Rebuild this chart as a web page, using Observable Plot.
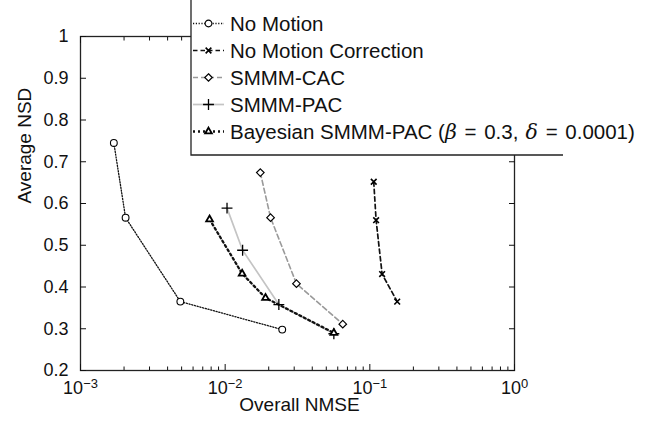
<!DOCTYPE html>
<html><head><meta charset="utf-8">
<script src="https://cdn.jsdelivr.net/npm/d3@7"></script>
<script src="https://cdn.jsdelivr.net/npm/@observablehq/plot@0.6"></script>
<style>
body{margin:0;background:#fff}
#chart{position:relative;width:651px;height:427px;overflow:hidden}
</style>
</head><body><div id="chart"></div>
<script>
// ---- data ----
const seriesNames = ["No Motion", "No Motion Correction", "SMMM-CAC", "SMMM-PAC", "Bayesian SMMM-PAC (β = 0.3, δ = 0.0001)"];
const noMotionX = [0.0017, 0.00205, 0.0049, 0.0248];
const noMotionY = [0.745, 0.566, 0.365, 0.298];
const noCorrectionX = [0.1064, 0.1105, 0.1216, 0.1546];
const noCorrectionY = [0.652, 0.560, 0.431, 0.365];
const cacX = [0.0175, 0.0206, 0.0311, 0.065];
const cacY = [0.674, 0.566, 0.408, 0.311];
const pacX = [0.0103, 0.0132, 0.0235, 0.0564];
const pacY = [0.589, 0.488, 0.358, 0.288];
const bayesX = [0.0078, 0.0131, 0.0190, 0.0564];
const bayesY = [0.562, 0.432, 0.374, 0.290];
const xMajorTicks = [0.001, 0.01, 0.1, 1];
const xTickLabels = ["10^-3", "10^-2", "10^-1", "10^0"];
const xMinorTicks = [2,3,4,5,6,7,8,9].flatMap(m => [0.001, 0.01, 0.1].map(b => +(m * b).toPrecision(3)));
const yTicks = [0.2, 0.3, 0.4, 0.5, 0.6, 0.7, 0.8, 0.9, 1];
const yTickLabels = ["0.2", "0.3", "0.4", "0.5", "0.6", "0.7", "0.8", "0.9", "1"];
const xLabel = "Overall NMSE";
const yLabel = "Average NSD";

const seriesX = [noMotionX, noCorrectionX, cacX, pacX, bayesX];
const seriesY = [noMotionY, noCorrectionY, cacY, pacY, bayesY];

// ---- styles ----
const styles = [
  {stroke: "#111", width: 1.3, dash: "1.2,1.6", symbol: "circle", r: 3.4, fill: "white", sw: 1.1},
  {stroke: "#111", width: 1.7, dash: "4.5,3", symbol: "times", r: 2.7, fill: "none", sw: 1.6},
  {stroke: "#9a9a9a", width: 1.6, dash: "5,3", symbol: "diamond2", r: 3.4, fill: "white", sw: 1.2},
  {stroke: "#c4c4c4", width: 1.7, dash: null, symbol: "plus", r: 3.6, fill: "none", sw: 1.3},
  {stroke: "#111", width: 2.3, dash: "2,3", symbol: "triangle2", r: 3.2, fill: "white", sw: 1.8}
];

const rows = [];
seriesNames.forEach((s, i) => seriesX[i].forEach((x, j) => rows.push({series: s, x, y: seriesY[i][j]})));

const xLabelMap = new Map(xMajorTicks.map((v, i) => [v, xTickLabels[i]]));
const yLabelMap = new Map(yTicks.map((v, i) => [v, yTickLabels[i]]));

const marks = [];
seriesNames.forEach((s, i) => {
  const st = styles[i];
  marks.push(Plot.line(rows.filter(r => r.series === s), {x: "x", y: "y", stroke: st.stroke, strokeWidth: st.width, strokeDasharray: st.dash}));
});
seriesNames.forEach((s, i) => {
  const st = styles[i];
  marks.push(Plot.dot(rows.filter(r => r.series === s), {x: "x", y: "y", symbol: st.symbol, r: st.r, stroke: "black", fill: st.fill, strokeWidth: st.sw}));
});

const chart = Plot.plot({
  width: 651, height: 427,
  marginLeft: 80, marginRight: 137, marginTop: 36, marginBottom: 57,
  style: {fontFamily: "'Liberation Sans', Arial, Helvetica, sans-serif", background: "white", color: "#111"},
  x: {type: "log", domain: [0.001, 1]},
  y: {domain: [0.2, 1]},
  marks: [
    ...marks,
    Plot.frame({stroke: "#222", strokeWidth: 1.3}),
    Plot.axisX(xMinorTicks, {anchor: "bottom", tickSize: -3.5, tickFormat: () => "", label: null}),
    Plot.axisX(xMajorTicks, {anchor: "bottom", tickSize: -6, tickPadding: 17, tickFormat: d => xLabelMap.get(d), fontSize: 18, label: null}),
    Plot.axisX(xMinorTicks, {anchor: "top", tickSize: -3.5, tickFormat: () => "", label: null}),
    Plot.axisX(xMajorTicks, {anchor: "top", tickSize: -6, tickFormat: () => "", label: null}),
    Plot.axisY(yTicks, {anchor: "left", tickSize: -6, tickPadding: 18, tickFormat: d => yLabelMap.get(d), fontSize: 18, label: null}),
    Plot.axisY(yTicks, {anchor: "right", tickSize: -6, tickFormat: () => "", label: null}),
    Plot.text([xLabel], {frameAnchor: "bottom", dy: 40, dx: 2, text: d => d, fontSize: 19, fill: "#111"}),
    Plot.text([yLabel], {frameAnchor: "left", dx: -56, rotate: -90, text: d => d, fontSize: 19, fill: "#111"})
  ]
});
document.getElementById("chart").appendChild(chart);

const svg = d3.select(chart);
// superscript exponents on the x tick labels
svg.selectAll("text").each(function () {
  const t = this.textContent;
  if (/^10\^/.test(t)) {
    const [b, e] = t.split("^");
    const sel = d3.select(this);
    sel.text("");
    sel.append("tspan").text(b);
    sel.append("tspan").attr("dy", "-0.45em").attr("font-size", "0.72em").text(e.replace("-", "−"));
  }
});

// ---- legend ----
const lg = svg.append("g").attr("font-family", "'Liberation Sans', Arial, Helvetica, sans-serif")
  .attr("font-size", 20.5).attr("fill", "#111").attr("text-anchor", "start");
lg.append("rect").attr("x", 191).attr("y", -5).attr("width", 460).attr("height", 160).attr("fill", "white").attr("stroke", "none");
lg.append("path").attr("d", "M191,-5V155H563").attr("fill", "none").attr("stroke", "#222").attr("stroke-width", 1.3);
seriesNames.forEach((s, i) => {
  const st = styles[i];
  const cy = 23.5 + i * 27;
  lg.append("line").attr("x1", 193).attr("x2", 224).attr("y1", cy).attr("y2", cy)
    .attr("stroke", st.stroke).attr("stroke-width", st.width).attr("stroke-dasharray", st.dash);
  const sym = {circle: d3.symbolCircle, times: d3.symbolTimes, diamond2: d3.symbolDiamond2, plus: d3.symbolPlus, triangle2: d3.symbolTriangle2}[st.symbol];
  lg.append("path").attr("transform", `translate(208.5,${cy})`).attr("d", d3.symbol(sym, Math.PI * st.r * st.r)())
    .attr("stroke", "black").attr("fill", st.fill).attr("stroke-width", st.sw);
  const txt = lg.append("text").attr("x", 230).attr("y", cy).attr("dy", "0.36em").attr("text-anchor", "start");
  let pad = 0;
  s.split(/([βδ=,])/).filter(p => p !== "").forEach(part => {
    const ts = txt.append("tspan").text(part);
    if (pad) { ts.attr("dx", pad); pad = 0; }
    if (part === "β" || part === "δ") ts.attr("font-style", "italic").attr("font-family", "'DejaVu Serif', serif");
    if (part === "=") { ts.attr("dx", 2); pad = 2; }
    if (part === ",") pad = 1.5;
  });
});
</script>
</body></html>
